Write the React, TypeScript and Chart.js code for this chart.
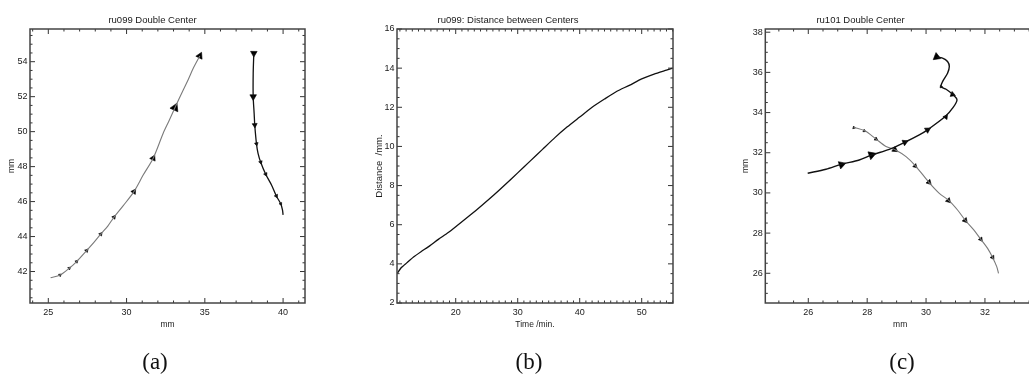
import React, { useEffect, useRef } from 'react';
import { Chart, registerables } from 'chart.js';

Chart.register(...registerables);

// ---------- Panel (a): ru099 Double Center ----------
const aTrack1X = [25.15, 25.75, 26.34, 26.81, 27.45, 27.9, 28.35, 28.8, 29.2, 29.79, 30.47, 31.07, 31.7, 32.34, 32.7, 33.09, 33.62, 33.95, 34.26, 34.68];
const aTrack1Y = [41.65, 41.8, 42.19, 42.57, 43.2, 43.65, 44.14, 44.6, 45.11, 45.77, 46.57, 47.53, 48.48, 49.91, 50.6, 51.37, 52.38, 53.0, 53.62, 54.33];
const aMark1X = [25.75, 26.34, 26.81, 27.45, 28.35, 29.2, 30.47, 31.7, 33.09, 34.68];
const aMark1Y = [41.8, 42.19, 42.57, 43.2, 44.14, 45.11, 46.57, 48.48, 51.37, 54.33];

const aTrack2X = [38.13, 38.09, 38.09, 38.15, 38.19, 38.3, 38.4, 38.57, 38.89, 39.26, 39.57, 39.85, 39.96, 40.0];
const aTrack2Y = [54.48, 53.33, 52.0, 51.05, 50.38, 49.3, 48.76, 48.25, 47.56, 46.95, 46.32, 45.87, 45.52, 45.24];
const aMark2X = [38.13, 38.09, 38.19, 38.3, 38.57, 38.89, 39.57, 39.85];
const aMark2Y = [54.48, 52.0, 50.38, 49.3, 48.25, 47.56, 46.32, 45.87];

// ---------- Panel (b): ru099 Distance between Centers ----------
const bTime = [10.55, 11.2, 12.1, 13.2, 14.4, 15.8, 17.2, 18.8, 20.4, 22.3, 24.2, 26.1, 28.0, 30.0, 32.0, 34.0, 36.0, 38.0, 40.0, 42.0, 44.0, 46.0, 48.0, 50.0, 52.0, 54.0, 55.0];
const bDist = [3.5, 3.8, 4.05, 4.35, 4.62, 4.92, 5.25, 5.6, 6.0, 6.48, 6.98, 7.5, 8.05, 8.65, 9.25, 9.85, 10.45, 11.0, 11.5, 12.0, 12.42, 12.82, 13.12, 13.45, 13.7, 13.9, 14.0];

// ---------- Panel (c): ru101 Double Center ----------
const cTrackAX = [25.98, 26.6, 27.13, 27.73, 28.16, 28.75, 29.26, 29.77, 30.05, 30.65, 30.9, 31.05, 30.9, 30.68, 30.51, 30.56, 30.73, 30.79, 30.73, 30.56, 30.36];
const cTrackAY = [30.98, 31.18, 31.43, 31.64, 31.89, 32.17, 32.51, 32.89, 33.14, 33.8, 34.22, 34.63, 34.91, 35.16, 35.29, 35.54, 35.96, 36.29, 36.54, 36.71, 36.76];
const cMarkAX = [27.13, 28.15, 29.28, 30.05, 30.67, 30.9, 30.51, 30.36];
const cMarkAY = [31.41, 31.89, 32.52, 33.14, 33.78, 34.9, 35.29, 36.77];

const cTrackBX = [27.54, 27.92, 28.3, 28.64, 28.96, 29.32, 29.64, 30.09, 30.45, 30.77, 31.07, 31.33, 31.62, 31.86, 32.09, 32.26, 32.4, 32.46];
const cTrackBY = [33.27, 33.09, 32.68, 32.31, 32.14, 31.81, 31.35, 30.54, 29.98, 29.63, 29.15, 28.64, 28.16, 27.69, 27.24, 26.79, 26.33, 26.0];
const cMarkBX = [27.55, 27.9, 28.3, 28.94, 29.63, 30.1, 30.76, 31.33, 31.86, 32.26];
const cMarkBY = [33.25, 33.09, 32.68, 32.15, 31.34, 30.53, 29.62, 28.63, 27.69, 26.79];

const aXTickStep = 5;
const aYTickStep = 2;
const bXTickStep = 10;
const bYTickStep = 2;
const cXTickStep = 2;
const cYTickStep = 2;

const FONT = '"Liberation Sans", Arial, sans-serif';
const TXT = '#1a1a1a';

const pts = (xs: number[], ys: number[]) => xs.map((x, i) => ({ x, y: ys[i] }));

const frameTicks = {
  id: 'frameTicks',
  afterDraw(chart: any) {
    const o = chart.options.plugins.frameTicks;
    if (!o) return;
    const { ctx, chartArea } = chart;
    const { left, right, top, bottom } = chartArea;
    const xs = chart.scales.x;
    const ys = chart.scales.y;
    const each = (scale: any, minor: number, major: number, cb: (p: number, L: number) => void) => {
      const s = Math.ceil(scale.min / minor - 1e-9);
      const e = Math.floor(scale.max / minor + 1e-9);
      for (let k = s; k <= e; k++) {
        const v = k * minor;
        const isMajor = Math.abs(v / major - Math.round(v / major)) < 1e-6;
        cb(scale.getPixelForValue(v), isMajor ? 5 : 2.5);
      }
    };
    ctx.save();
    ctx.strokeStyle = '#333';
    ctx.lineWidth = 1;
    ctx.beginPath();
    each(xs, o.xMinor, o.xMajor, (p, L) => {
      ctx.moveTo(p, bottom); ctx.lineTo(p, bottom - L);
      ctx.moveTo(p, top); ctx.lineTo(p, top + L);
    });
    each(ys, o.yMinor, o.yMajor, (p, L) => {
      ctx.moveTo(left, p); ctx.lineTo(left + L, p);
      ctx.moveTo(right, p); ctx.lineTo(right - L, p);
    });
    ctx.stroke();
    ctx.strokeStyle = '#444';
    ctx.lineWidth = 1.5;
    ctx.strokeRect(left, top, right - left, bottom - top);
    ctx.restore();
  },
};

// apex of each triangle points towards the next marker along the track
const rotationAlong = (c: any) => {
  const chart = c.chart;
  const data = c.dataset.data as { x: number; y: number }[];
  const i = c.dataIndex;
  const a = data[Math.max(0, i - 1)];
  const b = data[Math.min(data.length - 1, i + 1)];
  const sx = chart.scales.x, sy = chart.scales.y;
  if (!sx || !sy || !a || !b) return 0;
  const dx = sx.getPixelForValue(b.x) - sx.getPixelForValue(a.x);
  const dy = sy.getPixelForValue(b.y) - sy.getPixelForValue(a.y);
  return (Math.atan2(dx, -dy) * 180) / Math.PI;
};

const lineDs = (data: any[], color: string, width: number, tension = 0.3) => ({
  data,
  showLine: true,
  borderColor: color,
  borderWidth: width,
  pointRadius: 0,
  tension,
  fill: false,
});

const markDs = (data: any[], radii: number[]) => ({
  data,
  showLine: false,
  pointStyle: 'triangle',
  pointRadius: radii,
  pointBackgroundColor: '#000',
  pointBorderColor: '#000',
  pointBorderWidth: 0.6,
  pointRotation: rotationAlong,
});

interface PanelSpec {
  title: string;
  xTitle: string;
  yTitle: string;
  xMin: number; xMax: number; yMin: number; yMax: number;
  xStep: number; yStep: number; xMinor: number; yMinor: number;
  yAxisWidth: number; padRight: number; yTitlePad: number; yTitleSize: number;
  datasets: any[];
}

const makeConfig = (p: PanelSpec): any => ({
  type: 'scatter',
  data: { datasets: p.datasets },
  plugins: [frameTicks],
  options: {
    animation: false,
    responsive: false,
    events: [],
    layout: { padding: { left: 0, right: p.padRight, top: 0, bottom: 49 } },
    plugins: {
      legend: { display: false },
      tooltip: { enabled: false },
      title: {
        display: true,
        text: p.title,
        color: TXT,
        font: { family: FONT, size: 9.5, weight: 'normal' },
        padding: { top: 15, bottom: 2.6 },
      },
      frameTicks: { xMinor: p.xMinor, xMajor: p.xStep, yMinor: p.yMinor, yMajor: p.yStep },
    },
    scales: {
      x: {
        type: 'linear',
        min: p.xMin,
        max: p.xMax,
        afterFit: (s: any) => { s.height = 27; },
        grid: { display: false, drawTicks: false, tickLength: 0 },
        border: { display: false },
        ticks: { stepSize: p.xStep, includeBounds: false, color: TXT, font: { family: FONT, size: 9 }, padding: 4.6, maxRotation: 0, autoSkip: false },
        title: { display: true, text: p.xTitle, color: TXT, font: { family: FONT, size: 8.5 }, padding: 0 },
      },
      y: {
        type: 'linear',
        min: p.yMin,
        max: p.yMax,
        afterFit: (s: any) => { s.width = p.yAxisWidth; },
        grid: { display: false, drawTicks: false, tickLength: 0 },
        border: { display: false },
        ticks: { stepSize: p.yStep, includeBounds: false, color: TXT, font: { family: FONT, size: 9 }, padding: 2.5, autoSkip: false },
        title: { display: true, text: p.yTitle, color: TXT, font: { family: FONT, size: p.yTitleSize }, padding: { top: p.yTitlePad, bottom: 0 } },
      },
    },
  },
});

const specA = (): PanelSpec => ({
  title: 'ru099 Double Center',
  xTitle: 'mm',
  yTitle: 'mm',
  xMin: 23.83, xMax: 41.4, yMin: 40.2, yMax: 55.87,
  xStep: aXTickStep, yStep: aYTickStep, xMinor: 1, yMinor: 0.5,
  yAxisWidth: 30, padRight: 38, yTitlePad: 7, yTitleSize: 8.5,
  datasets: [
    lineDs(pts(aTrack1X, aTrack1Y), '#7a7a7a', 1.1),
    lineDs(pts(aTrack2X, aTrack2Y), '#111', 1.3),
    markDs(pts(aMark1X, aMark1Y), [1.7, 1.7, 1.8, 2.1, 2.1, 2.3, 3.1, 3.5, 5, 4]),
    markDs(pts(aMark2X, aMark2Y), [3.8, 3.8, 2.9, 2.1, 2.1, 2.1, 2.1, 1.7]),
  ],
});

const specB = (): PanelSpec => ({
  title: 'ru099: Distance between Centers',
  xTitle: 'Time /min.',
  yTitle: 'Distance  /mm.',
  xMin: 10.53, xMax: 55.05, yMin: 2, yMax: 16,
  xStep: bXTickStep, yStep: bYTickStep, xMinor: 1, yMinor: 0.5,
  yAxisWidth: 54, padRight: 13, yTitlePad: 30.3, yTitleSize: 9.5,
  datasets: [lineDs(pts(bTime, bDist), '#111', 1.3, 0.2)],
});

const specC = (): PanelSpec => ({
  title: 'ru101 Double Center',
  xTitle: 'mm',
  yTitle: 'mm',
  xMin: 24.54, xMax: 33.7, yMin: 24.52, yMax: 38.16,
  xStep: cXTickStep, yStep: cYTickStep, xMinor: 0.5, yMinor: 0.5,
  yAxisWidth: 79.3, padRight: 51, yTitlePad: 55, yTitleSize: 8.5,
  datasets: [
    lineDs(pts(cTrackAX, cTrackAY), '#111', 1.4),
    lineDs(pts(cTrackBX, cTrackBY), '#7a7a7a', 1.1),
    markDs(pts(cMarkAX, cMarkAY), [4.4, 4.8, 3.5, 3.5, 2.9, 3.1, 1.6, 4.4]),
    markDs(pts(cMarkBX, cMarkBY), [1.6, 1.6, 2.1, 3.4, 2.5, 3.1, 3.1, 3.1, 2.5, 2.5]),
  ],
});

function Panel({ left, width, spec }: { left: number; width: number; spec: () => PanelSpec }) {
  const ref = useRef<HTMLCanvasElement | null>(null);
  useEffect(() => {
    if (!ref.current) return;
    const chart = new Chart(ref.current, makeConfig(spec()));
    return () => chart.destroy();
  }, [spec]);
  return (
    <canvas
      ref={ref}
      width={width}
      height={379}
      style={{ position: 'absolute', left, top: 0, width, height: 379, display: 'block' }}
    />
  );
}

const captions = [
  { text: '(a)', cx: 155 },
  { text: '(b)', cx: 529 },
  { text: '(c)', cx: 902 },
];

export default function App() {
  return (
    <div style={{ position: 'absolute', left: 0, top: 0, width: 1029, height: 379, overflow: 'hidden', background: '#fff' }}>
      <Panel left={0} width={343} spec={specA} />
      <Panel left={343} width={343} spec={specB} />
      <Panel left={686} width={400} spec={specC} />
      {captions.map((c) => (
        <div
          key={c.text}
          style={{
            position: 'absolute',
            left: c.cx - 30,
            top: 349,
            width: 60,
            textAlign: 'center',
            fontFamily: '"Liberation Serif", "DejaVu Serif", serif',
            fontSize: 23,
            lineHeight: '26px',
            color: '#111',
          }}
        >
          {c.text}
        </div>
      ))}
    </div>
  );
}
